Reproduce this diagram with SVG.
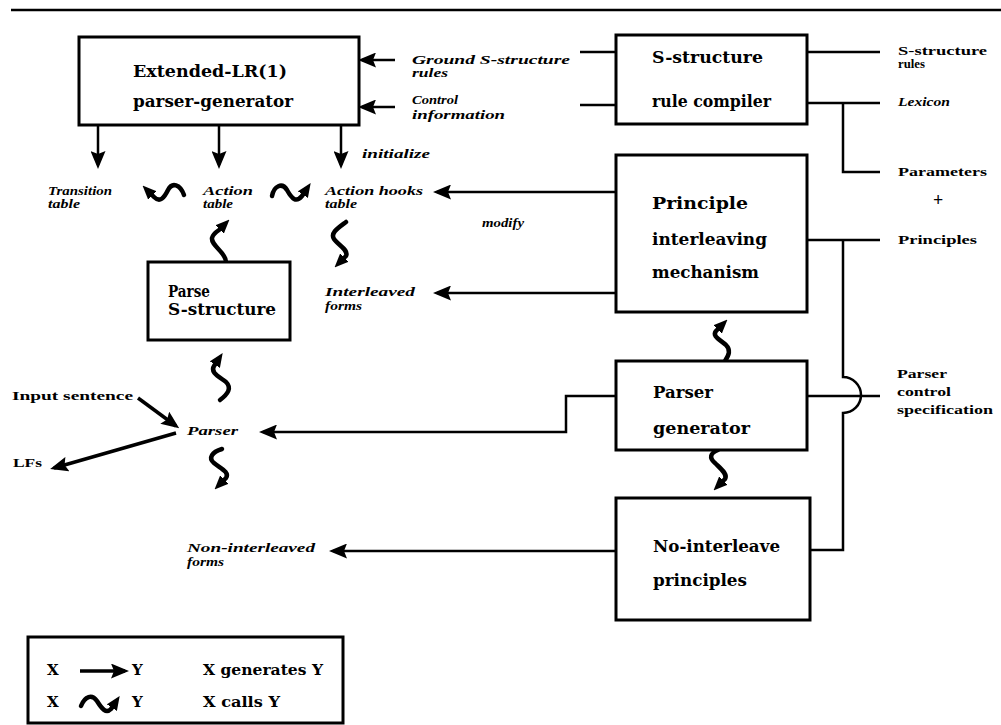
<svg xmlns="http://www.w3.org/2000/svg" width="1001" height="725" viewBox="0 0 1001 725">
<style>
.box{fill:#fff;stroke:#000;stroke-width:3}
.ln{fill:none;stroke:#000;stroke-width:2.5}
.ar{fill:none;stroke:#000;stroke-width:2.5;marker-end:url(#ah)}
.thk{fill:none;stroke:#000;stroke-width:3.5;marker-end:url(#ah)}
.sq{fill:none;stroke:#000;stroke-width:4.5;stroke-linecap:round;stroke-linejoin:round;marker-end:url(#sh)}
.n{font-family:"DejaVu Serif",serif;font-weight:bold;font-size:16px}
.l{font-family:"Liberation Serif",serif;font-weight:bold;font-style:italic;font-size:13px}
.r{font-family:"Liberation Serif",serif;font-weight:bold;font-size:13px}
.big{font-family:"DejaVu Serif",serif;font-weight:bold;font-size:15px}
</style>
<defs>
<marker id="ah" viewBox="0 0 18 15" refX="14" refY="7.5" markerWidth="18" markerHeight="15" markerUnits="userSpaceOnUse" orient="auto"><path d="M0,0 L18,7.5 L0,15 L3,7.5 z" fill="#000"/></marker>
<marker id="sh" viewBox="0 0 14 12" refX="2" refY="6" markerWidth="14" markerHeight="12" markerUnits="userSpaceOnUse" orient="auto"><path d="M0,0 L14,6 L0,12 z" fill="#000"/></marker>
</defs>
<rect width="1001" height="725" fill="#fff"/>
<line x1="11" y1="10" x2="1001" y2="10" stroke="#000" stroke-width="2.5"/>

<g id="connectors">
<line class="ar" x1="395" y1="60" x2="362" y2="60"/>
<line class="ln" x1="580" y1="52" x2="616" y2="52"/>
<line class="ar" x1="395" y1="107" x2="362" y2="107"/>
<line class="ln" x1="580" y1="105" x2="616" y2="105"/>
<line class="ln" x1="807" y1="52" x2="880" y2="52"/>
<polyline class="ln" points="807,103 880,103"/>
<polyline class="ln" points="843,103 843,172 880,172"/>
<line class="ln" x1="807" y1="240" x2="880" y2="240"/>
<path class="ln" d="M843,240 L843,377 A18,18 0 0,1 843,413 L843,550 L810,550"/>
<line class="ln" x1="807" y1="396" x2="880" y2="396"/>
<polyline class="ar" points="616,396 566,396 566,432 263,432"/>
<line class="ar" x1="616" y1="192" x2="437" y2="192"/>
<line class="ar" x1="616" y1="293" x2="437" y2="293"/>
<line class="ar" x1="616" y1="551" x2="333" y2="551"/>
<line class="ar" x1="98" y1="125" x2="98" y2="165"/>
<line class="ar" x1="219" y1="125" x2="219" y2="165"/>
<line class="ar" x1="341" y1="125" x2="341" y2="165"/>
<line class="thk" x1="138" y1="398" x2="176" y2="426"/>
<line class="thk" x1="176" y1="433" x2="54" y2="468"/>
<path class="sq" d="M184,195 C180,184 172,182 168,190 C164,198 160,203 154,197 L151,194"/>
<path class="sq" d="M272,196 C274,186 282,182 287,190 C292,199 296,203 302,196 L304,193"/>
<path class="sq" d="M226,262 C226,252 211,246 212,238 C213,234 216,232 219,230 L221,228"/>
<path class="sq" d="M346,222 C338,228 330,233 334,239 C338,245 349,250 346,256 L343,259"/>
<path class="sq" d="M220,400 C228,394 232,388 226,382 C218,376 210,372 214,366 L216,363"/>
<path class="sq" d="M222,449 C212,452 208,458 214,463 C220,468 230,472 226,478 L223,481"/>
<path class="sq" d="M725,361 C729,355 731,350 726,345 C719,339 712,336 716,331 L719,328"/>
<path class="sq" d="M718,450 C710,453 709,458 715,463 C721,469 728,474 725,479 L722,482"/>
</g>

<g id="extended-lr">
<rect class="box" x="79" y="37" width="280" height="88"/>
<text class="n" x="133" y="77" textLength="154" lengthAdjust="spacingAndGlyphs">Extended-LR(1)</text>
<text class="n" x="133" y="107" textLength="160" lengthAdjust="spacingAndGlyphs">parser-generator</text>
</g>

<g id="s-structure-compiler">
<rect class="box" x="616" y="35" width="191" height="89"/>
<text class="n" x="652" y="63" textLength="111" lengthAdjust="spacingAndGlyphs">S-structure</text>
<text class="n" x="652" y="107" textLength="119" lengthAdjust="spacingAndGlyphs">rule compiler</text>
</g>

<g id="principle-interleaving">
<rect class="box" x="616" y="155" width="191" height="157"/>
<text class="n" x="652" y="209" textLength="96" lengthAdjust="spacingAndGlyphs">Principle</text>
<text class="n" x="652" y="245" textLength="115" lengthAdjust="spacingAndGlyphs">interleaving</text>
<text class="n" x="652" y="278" textLength="107" lengthAdjust="spacingAndGlyphs">mechanism</text>
</g>

<g id="parser-generator">
<rect class="box" x="616" y="361" width="191" height="89"/>
<text class="n" x="653" y="398" textLength="60" lengthAdjust="spacingAndGlyphs">Parser</text>
<text class="n" x="653" y="434" textLength="97" lengthAdjust="spacingAndGlyphs">generator</text>
</g>

<g id="no-interleave">
<rect class="box" x="616" y="498" width="194" height="122"/>
<text class="n" x="653" y="552" textLength="127" lengthAdjust="spacingAndGlyphs">No-interleave</text>
<text class="n" x="653" y="586" textLength="94" lengthAdjust="spacingAndGlyphs">principles</text>
</g>

<g id="parse-s-structure">
<rect class="box" x="148" y="262" width="142" height="78"/>
<text class="n" x="168" y="297" textLength="42" lengthAdjust="spacingAndGlyphs">Parse</text>
<text class="n" x="168" y="315" textLength="108" lengthAdjust="spacingAndGlyphs">S-structure</text>
</g>

<g id="ground-rules">
<text class="l" x="412" y="64" textLength="158" lengthAdjust="spacingAndGlyphs">Ground S-structure</text>
<text class="l" x="412" y="77" textLength="36" lengthAdjust="spacingAndGlyphs">rules</text>
</g>
<g id="control-info">
<text class="l" x="412" y="104" textLength="46" lengthAdjust="spacingAndGlyphs">Control</text>
<text class="l" x="412" y="119" textLength="93" lengthAdjust="spacingAndGlyphs">information</text>
</g>
<g id="s-structure-rules">
<text class="r" x="898" y="55" textLength="89" lengthAdjust="spacingAndGlyphs">S-structure</text>
<text class="r" x="898" y="68" textLength="27" lengthAdjust="spacingAndGlyphs">rules</text>
</g>
<g id="lexicon"><text class="l" x="898" y="106" textLength="52" lengthAdjust="spacingAndGlyphs">Lexicon</text></g>
<g id="parameters"><text class="r" x="898" y="176" textLength="89" lengthAdjust="spacingAndGlyphs">Parameters</text></g>
<g id="plus"><text class="r" x="933" y="206" style="font-size:18px">+</text></g>
<g id="principles"><text class="r" x="898" y="244" textLength="79" lengthAdjust="spacingAndGlyphs">Principles</text></g>
<g id="parser-control-spec">
<text class="r" x="897" y="378" textLength="50" lengthAdjust="spacingAndGlyphs">Parser</text>
<text class="r" x="897" y="396" textLength="54" lengthAdjust="spacingAndGlyphs">control</text>
<text class="r" x="897" y="414" textLength="96" lengthAdjust="spacingAndGlyphs">specification</text>
</g>
<g id="transition-table">
<text class="l" x="48" y="195" textLength="64" lengthAdjust="spacingAndGlyphs">Transition</text>
<text class="l" x="48" y="208" textLength="32" lengthAdjust="spacingAndGlyphs">table</text>
</g>
<g id="action-table">
<text class="l" x="203" y="195" textLength="50" lengthAdjust="spacingAndGlyphs">Action</text>
<text class="l" x="203" y="208" textLength="30" lengthAdjust="spacingAndGlyphs">table</text>
</g>
<g id="action-hooks-table">
<text class="l" x="325" y="195" textLength="98" lengthAdjust="spacingAndGlyphs">Action hooks</text>
<text class="l" x="325" y="208" textLength="32" lengthAdjust="spacingAndGlyphs">table</text>
</g>
<g id="initialize"><text class="l" x="362" y="158" textLength="68" lengthAdjust="spacingAndGlyphs">initialize</text></g>
<g id="modify"><text class="l" x="482" y="227" textLength="42" lengthAdjust="spacingAndGlyphs">modify</text></g>
<g id="interleaved-forms">
<text class="l" x="325" y="296" textLength="90" lengthAdjust="spacingAndGlyphs">Interleaved</text>
<text class="l" x="325" y="310" textLength="37" lengthAdjust="spacingAndGlyphs">forms</text>
</g>
<g id="input-sentence"><text class="r" x="12" y="400" textLength="121" lengthAdjust="spacingAndGlyphs">Input sentence</text></g>
<g id="parser"><text class="l" x="187" y="435" textLength="51" lengthAdjust="spacingAndGlyphs">Parser</text></g>
<g id="lfs"><text class="r" x="13" y="467" textLength="29" lengthAdjust="spacingAndGlyphs">LFs</text></g>
<g id="non-interleaved-forms">
<text class="l" x="187" y="552" textLength="128" lengthAdjust="spacingAndGlyphs">Non-interleaved</text>
<text class="l" x="187" y="566" textLength="37" lengthAdjust="spacingAndGlyphs">forms</text>
</g>

<g id="legend">
<rect class="box" x="28" y="637" width="315" height="86"/>
<text class="big" x="47" y="675">X</text>
<line class="thk" x1="80" y1="671" x2="125" y2="671"/>
<text class="big" x="132" y="675">Y</text>
<text class="big" x="203" y="675" textLength="120" lengthAdjust="spacingAndGlyphs">X generates Y</text>
<text class="big" x="47" y="707">X</text>
<path class="sq" d="M81,706 C85,696 92,694 97,701 C102,709 106,714 111,709 L113,706"/>
<text class="big" x="132" y="707">Y</text>
<text class="big" x="203" y="707" textLength="77" lengthAdjust="spacingAndGlyphs">X calls Y</text>
</g>
</svg>
